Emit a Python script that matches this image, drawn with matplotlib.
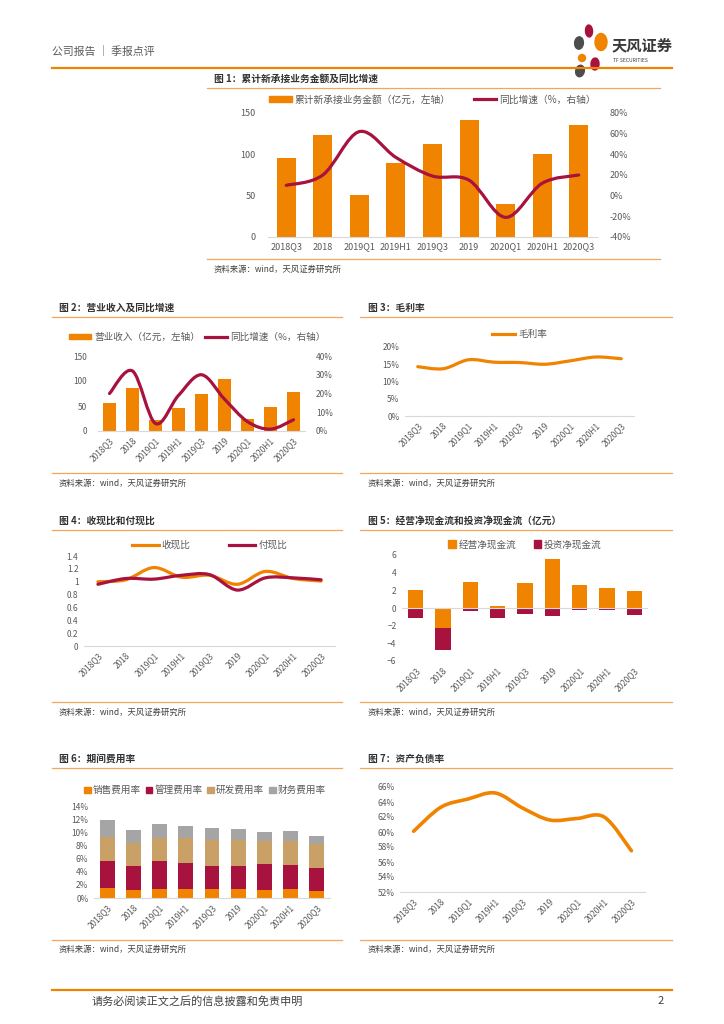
import numpy as np
import matplotlib
matplotlib.use("Agg")
import matplotlib.pyplot as plt
from matplotlib.path import Path
from matplotlib.patches import PathPatch, Ellipse, Patch
from matplotlib.lines import Line2D
from matplotlib.ticker import FuncFormatter

plt.rcParams['font.family'] = ['Noto Sans CJK SC', 'DejaVu Sans']

cats = ['2018Q3', '2018', '2019Q1', '2019H1', '2019Q3', '2019', '2020Q1', '2020H1', '2020Q3']

new_orders = [95, 123, 51, 90, 113, 141, 40, 100, 136]
new_orders_yoy = [10, 20, 62, 37, 19, 15, -21, 12, 20]

revenue = [57, 87, 22, 47, 74, 104, 25, 48, 78]
revenue_yoy = [20, 32, 4, 19, 30, 17, 5, 1, 6]

gross_margin = [14.3, 13.7, 16.3, 15.6, 15.5, 15.0, 16.0, 17.1, 16.6]

cash_recv_ratio = [1.00, 1.03, 1.22, 1.07, 1.10, 0.96, 1.16, 1.05, 1.01]
cash_pay_ratio = [0.96, 1.05, 1.04, 1.10, 1.11, 0.87, 1.06, 1.06, 1.03]

op_cf = [2.0, -2.3, 2.9, 0.2, 2.8, 5.5, 2.6, 2.3, 1.9]
inv_cf = [-1.1, -2.4, -0.3, -1.1, -0.7, -0.9, -0.2, -0.2, -0.8]

sales_exp = [1.5, 1.2, 1.4, 1.4, 1.3, 1.3, 1.2, 1.3, 1.1]
admin_exp = [4.1, 3.7, 4.3, 3.9, 3.6, 3.6, 3.9, 3.7, 3.5]
rd_exp = [3.7, 3.5, 3.5, 3.8, 4.0, 3.9, 3.6, 3.7, 3.6]
fin_exp = [2.5, 2.0, 2.0, 1.9, 1.8, 1.7, 1.4, 1.5, 1.3]

debt_ratio = [60.1, 63.3, 64.4, 65.2, 63.2, 61.6, 61.8, 62.0, 57.5]

ORANGE = '#F08300'
RED = '#A8123E'
TAN = '#C9A066'
GREY = '#A5A5A5'
TXT = '#595959'
RULE = '#F5A55A'
LEG = 6.9

W, H = 724, 1024
fig = plt.figure(figsize=(W / 100, H / 100), dpi=100)
fig.patch.set_facecolor('white')


def fx(x):
    return x / W


def fy(y):
    return 1 - y / H


def add_ax(l, t, r, b):
    return fig.add_axes([fx(l), fy(b), fx(r - l), (b - t) / H])


def hline(x0, x1, y, color=RULE, lw=0.9):
    fig.add_artist(Line2D([fx(x0), fx(x1)], [fy(y), fy(y)], color=color, lw=lw,
                          transform=fig.transFigure))


def smooth_path(x, y):
    # excel-style smoothed line: cubic bezier through the data points
    pts = np.column_stack([x, y]).astype(float)
    n = len(pts)
    verts = [pts[0]]
    codes = [Path.MOVETO]
    for i in range(n - 1):
        p0 = pts[max(i - 1, 0)]
        p1 = pts[i]
        p2 = pts[i + 1]
        p3 = pts[min(i + 2, n - 1)]
        verts += [p1 + (p2 - p0) / 6, p2 - (p3 - p1) / 6, p2]
        codes += [Path.CURVE4] * 3
    return Path(verts, codes)


def smooth_line(ax, y, color, lw):
    ax.add_patch(PathPatch(smooth_path(np.arange(len(y)), y), fill=False,
                           edgecolor=color, lw=lw, capstyle='round', joinstyle='round'))


def style(ax, rotate=True, fs=6.3):
    for s in ['top', 'right', 'left']:
        ax.spines[s].set_visible(False)
    ax.spines['bottom'].set_color('#D9D9D9')
    ax.spines['bottom'].set_linewidth(0.8)
    ax.tick_params(length=0, labelsize=fs, colors=TXT, pad=4)
    ax.set_xlim(-0.5, len(cats) - 0.5)
    ax.set_xticks(range(len(cats)))
    if rotate:
        ax.set_xticklabels(cats, rotation=45, ha='right', rotation_mode='anchor')
    else:
        ax.set_xticklabels(cats)
    ax.set_facecolor('none')


def frame(x0, x1, title, y_title, y_rule, y_bottom, y_src, tx):
    fig.text(fx(tx), fy(y_title), title, fontsize=7.0, fontweight='bold',
             color='#333333', va='center', ha='left')
    hline(x0, x1, y_rule)
    hline(x0, x1, y_bottom)
    fig.text(fx(tx), fy(y_src), '资料来源：wind，天风证券研究所', fontsize=6.0,
             color='#404040', va='center', ha='left')


pct = FuncFormatter(lambda v, p: '{:.0f}%'.format(v))

# header
fig.text(fx(52), fy(52), '公司报告 ｜ 季报点评', fontsize=7.8, color='#595959',
         va='center', ha='left')
hline(52, 672, 68, color='#F08300', lw=1.6)
for (cx, cy, w, h, ang, c) in [(589, 31, 7, 12, 10, RED), (601, 42, 12, 17, -40, ORANGE),
                               (579, 43, 9, 12, 40, '#4D4D4D'), (582, 58, 7, 7, 0, ORANGE),
                               (595, 64, 8, 12, -20, RED), (580, 71, 9, 11, 30, '#4D4D4D')]:
    fig.add_artist(Ellipse((fx(cx), fy(cy)), fx(w), h / H, angle=ang, color=c,
                           transform=fig.transFigure))
fig.text(fx(612), fy(45), '天风证券', fontsize=11, fontweight='bold', color='#3A3A3A',
         va='center', ha='left')
fig.text(fx(613), fy(60), 'TF SECURITIES', fontsize=3.6, color='#3A3A3A',
         va='center', ha='left')

# footer
hline(52, 672, 990, color='#F08300', lw=1.6)
fig.text(fx(92), fy(1001), '请务必阅读正文之后的信息披露和免责申明', fontsize=8.0,
         color='#404040', va='center', ha='left')
fig.text(fx(664), fy(1001), '2', fontsize=8.0, color='#404040', va='center', ha='right')

x = np.arange(len(cats))

# 图1
frame(207, 660, '图 1：累计新承接业务金额及同比增速', 79, 88, 259, 269, 214)
ax = add_ax(268, 113, 597, 237)
style(ax, rotate=False, fs=6.5)
ax.bar(x, new_orders, width=0.52, color=ORANGE)
ax.set_ylim(0, 150)
ax.set_yticks([0, 50, 100, 150])
ax.tick_params(axis='y', pad=9)
ax2 = ax.twinx()
smooth_line(ax2, new_orders_yoy, RED, 2.3)
ax2.set_ylim(-40, 80)
ax2.set_yticks(range(-40, 81, 20))
ax2.yaxis.set_major_formatter(pct)
for s in ax2.spines.values():
    s.set_visible(False)
ax2.tick_params(length=0, labelsize=6.5, colors=TXT, pad=9)
ax.legend([Patch(color=ORANGE), Line2D([], [], color=RED, lw=2.3)],
          ['累计新承接业务金额（亿元，左轴）', '同比增速（%，右轴）'],
          loc='center', bbox_to_anchor=(0.5, 1.11), ncol=2, frameon=False,
          fontsize=7.0, labelcolor=TXT, handlelength=2.3, handleheight=0.5,
          columnspacing=2.4, handletextpad=0.3)

# 图2
frame(52, 342, '图 2：营业收入及同比增速', 308, 317, 473, 483, 59)
ax = add_ax(98, 356, 305, 431)
style(ax, fs=6.0)
ax.bar(x, revenue, width=0.55, color=ORANGE)
ax.set_ylim(0, 150)
ax.set_yticks([0, 50, 100, 150])
ax.tick_params(axis='y', pad=8)
ax2 = ax.twinx()
smooth_line(ax2, revenue_yoy, RED, 2.3)
ax2.set_ylim(0, 40)
ax2.set_yticks(range(0, 41, 10))
ax2.yaxis.set_major_formatter(pct)
for s in ax2.spines.values():
    s.set_visible(False)
ax2.tick_params(length=0, labelsize=6.0, colors=TXT, pad=8)
ax.legend([Patch(color=ORANGE), Line2D([], [], color=RED, lw=2.3)],
          ['营业收入（亿元，左轴）', '同比增速（%，右轴）'],
          loc='center', bbox_to_anchor=(0.48, 1.25), ncol=2, frameon=False,
          fontsize=LEG, labelcolor=TXT, handlelength=2.3, handleheight=0.5,
          columnspacing=0.5, handletextpad=0.3)

# 图3
frame(360, 672, '图 3：毛利率', 308, 317, 473, 483, 368)
ax = add_ax(405, 347, 634, 416)
style(ax, fs=6.0)
smooth_line(ax, gross_margin, ORANGE, 2.3)
ax.set_ylim(0, 20)
ax.set_yticks(range(0, 21, 5))
ax.yaxis.set_major_formatter(pct)
ax.legend([Line2D([], [], color=ORANGE, lw=2.3)], ['毛利率'], loc='center',
          bbox_to_anchor=(0.5, 1.18), frameon=False, fontsize=LEG, labelcolor=TXT,
          handlelength=2.4, handletextpad=0.3)

# 图4
frame(52, 342, '图 4：收现比和付现比', 521, 530, 702, 712, 59)
ax = add_ax(84, 556, 335, 646)
style(ax, fs=6.0)
smooth_line(ax, cash_recv_ratio, ORANGE, 2.3)
smooth_line(ax, cash_pay_ratio, RED, 2.3)
ax.set_ylim(0, 1.4)
ax.set_yticks(np.arange(0, 1.41, 0.2))
ax.yaxis.set_major_formatter(FuncFormatter(lambda v, p: '{:g}'.format(round(v, 1))))
ax.legend([Line2D([], [], color=ORANGE, lw=2.3), Line2D([], [], color=RED, lw=2.3)],
          ['收现比', '付现比'], loc='center', bbox_to_anchor=(0.5, 1.12), ncol=2,
          frameon=False, fontsize=LEG, labelcolor=TXT, handlelength=2.8,
          handletextpad=0.3, columnspacing=4.0)

# 图5
frame(360, 672, '图 5：经营净现金流和投资净现金流（亿元）', 521, 530, 702, 712, 368)
ax = add_ax(402, 555, 648, 661)
style(ax, fs=6.0)
ax.spines['bottom'].set_visible(False)
ax.bar(x, op_cf, width=0.55, color=ORANGE)
ax.bar(x, inv_cf, width=0.55, color=RED, bottom=np.minimum(op_cf, 0))
ax.axhline(0, color='#D9D9D9', lw=0.8)
ax.set_ylim(-6, 6)
ax.set_yticks(range(-6, 7, 2))
ax.legend([Patch(color=ORANGE), Patch(color=RED)], ['经营净现金流', '投资净现金流'],
          loc='center', bbox_to_anchor=(0.5, 1.1), ncol=2, frameon=False,
          fontsize=LEG, labelcolor=TXT, handlelength=0.8, handleheight=0.8,
          handletextpad=0.3, columnspacing=1.8)

# 图6
frame(52, 342, '图 6：期间费用率', 759, 768, 940, 949, 59)
ax = add_ax(94, 806, 330, 898)
style(ax, fs=6.0)
b1 = np.array(sales_exp)
b2 = b1 + np.array(admin_exp)
b3 = b2 + np.array(rd_exp)
ax.bar(x, sales_exp, width=0.57, color=ORANGE)
ax.bar(x, admin_exp, width=0.57, color=RED, bottom=b1)
ax.bar(x, rd_exp, width=0.57, color=TAN, bottom=b2)
ax.bar(x, fin_exp, width=0.57, color=GREY, bottom=b3)
ax.set_ylim(0, 14)
ax.set_yticks(range(0, 15, 2))
ax.yaxis.set_major_formatter(pct)
ax.legend([Patch(color=c) for c in [ORANGE, RED, TAN, GREY]],
          ['销售费用率', '管理费用率', '研发费用率', '财务费用率'],
          loc='center', bbox_to_anchor=(0.47, 1.17), ncol=4, frameon=False,
          fontsize=LEG, labelcolor=TXT, handlelength=0.7, handleheight=0.7,
          handletextpad=0.2, columnspacing=0.5)

# 图7
frame(360, 672, '图 7：资产负债率', 759, 768, 940, 949, 368)
ax = add_ax(400, 787, 645, 892)
style(ax, fs=6.0)
smooth_line(ax, debt_ratio, ORANGE, 2.6)
ax.set_ylim(52, 66)
ax.set_yticks(range(52, 67, 2))
ax.yaxis.set_major_formatter(pct)

fig.savefig('out.png', dpi=100)
